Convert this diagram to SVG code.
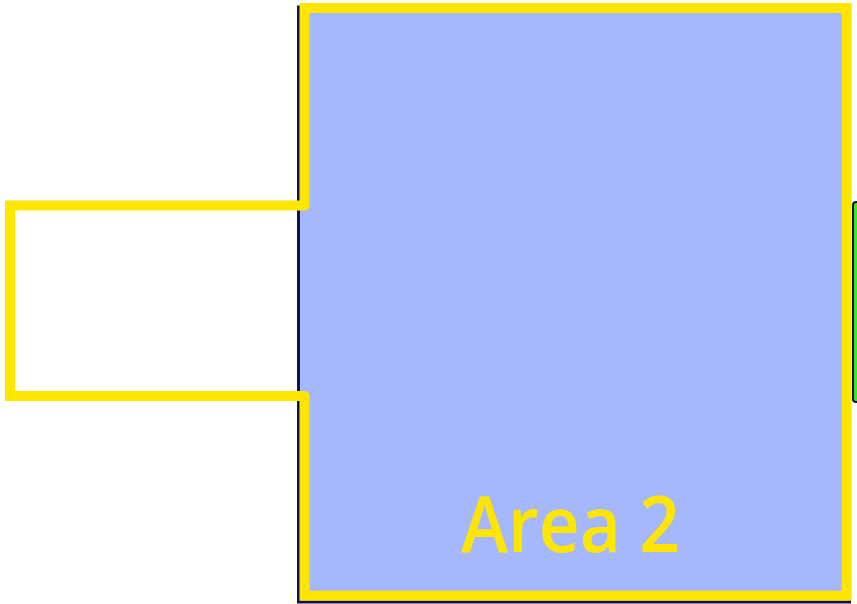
<svg xmlns="http://www.w3.org/2000/svg" width="857" height="604" viewBox="0 0 857 604">
<style>
.area{stroke:#10105a;stroke-width:3}
.side{stroke:#10105a;stroke-width:2}
.outline{fill:none;stroke:#ffe600;stroke-width:10;stroke-linejoin:miter}
.label{font-family:"Open Sans","Noto Sans",sans-serif;font-weight:600;font-size:78px;fill:#ffe600}
</style>
<rect width="857" height="604" fill="#ffffff"/>
<g id="area3">
<rect class="side" x="853" y="202" width="20" height="200" rx="3" fill="#40e81a"/>
</g>
<g id="area2">
<rect class="area" x="298.5" y="7" width="551" height="595" fill="#a6b8fd"/>
<path class="outline" d="M304.5,8 H846.7 V595.7 H304.5 V396.5 A0.5,0.5 0 0 0 304,396 H10 V205.5 H304 A0.5,0.5 0 0 0 304.5,205 Z"/>
<text class="label" x="461" y="552" textLength="219" lengthAdjust="spacingAndGlyphs">Area 2</text>
</g>
<g id="connectors"></g>
</svg>
